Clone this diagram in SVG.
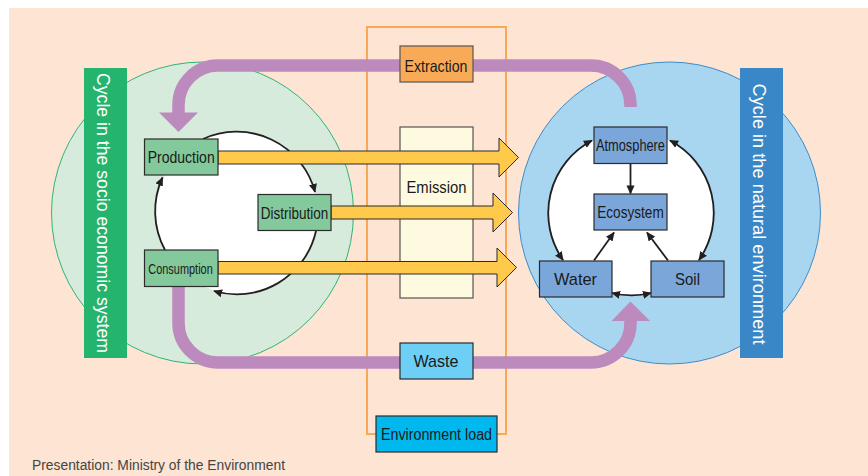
<svg xmlns="http://www.w3.org/2000/svg" width="868" height="476" viewBox="0 0 868 476">
<defs>
<style>
.node{stroke:#2b2b2b;stroke-width:1.2}
.gn{fill:#83C99C}
.bn{fill:#7BA6D9}
.t{font-family:"Liberation Sans",Arial,sans-serif;fill:#1a1a1a;text-anchor:middle}
.lbl{font-family:"Liberation Sans",Arial,sans-serif;fill:#ffffff;font-size:18px}
.cyc{fill:none;stroke:#231F20;stroke-width:1.8}
.pur{fill:none;stroke:#BD8ABE;stroke-width:12.5}
.purh{fill:#BD8ABE}
.yel{fill:#FFCA4B;stroke:#2b2b2b;stroke-width:1}
</style>
<marker id="ah" viewBox="0 0 10 10" refX="9" refY="5" markerWidth="5" markerHeight="5" orient="auto-start-reverse" markerUnits="strokeWidth">
<path d="M0,0.5 L10,5 L0,9.5 Z" fill="#231F20"/>
</marker>
</defs>
<rect x="0" y="0" width="868" height="476" fill="#ffffff"/>
<rect x="9" y="8" width="859" height="468" fill="#FDE4D3"/>

<g id="socio-circle">
<circle cx="202.5" cy="213" r="151" fill="#D6EBDC" stroke="#2DB577" stroke-width="1"/>
<circle cx="237" cy="212.5" r="81" fill="#ffffff"/>
</g>
<g id="natural-circle">
<circle cx="669.5" cy="213" r="151" fill="#A8D5F0" stroke="#3C8DCA" stroke-width="1"/>
<circle cx="631" cy="213" r="82" fill="#ffffff"/>
</g>

<g id="environment-frame">
<path d="M376,434 H367 V27 H506 V434 H497" fill="none" stroke="#F9A955" stroke-width="2"/>
</g>

<g id="emission">
<rect x="400" y="127" width="73" height="171" fill="#FEFADF" stroke="#555" stroke-width="1.2"/>
<text class="t" x="436.5" y="192.5" font-size="16.5" textLength="60" lengthAdjust="spacingAndGlyphs">Emission</text>
</g>

<g id="connectors">
<path class="cyc" d="M203,139 A81,81 0 0 1 315,192" marker-end="url(#ah)"/>
<path class="cyc" d="M316,231 A81,81 0 0 1 214,291" marker-end="url(#ah)"/>
<path class="cyc" d="M165,250 A81,81 0 0 1 162.5,177.5" marker-end="url(#ah)"/>
<path class="cyc" d="M563,260 A82,82 0 0 1 592,140.5" marker-start="url(#ah)" marker-end="url(#ah)"/>
<path class="cyc" d="M699,260 A82,82 0 0 0 670,140.5" marker-start="url(#ah)" marker-end="url(#ah)"/>
<path class="cyc" d="M651,293 A82,82 0 0 1 612,293" marker-start="url(#ah)" marker-end="url(#ah)"/>
<line class="cyc" x1="630.5" y1="163.5" x2="630.5" y2="193.5" marker-end="url(#ah)"/>
<line class="cyc" x1="594" y1="260.5" x2="614" y2="232.5" marker-end="url(#ah)"/>
<line class="cyc" x1="668" y1="260.5" x2="647" y2="232.5" marker-end="url(#ah)"/>

<path class="pur" d="M630.5,107 V105 A39.5,39.5 0 0 0 591,65.5 H473"/>
<path class="pur" d="M400,65.5 H218 A39.5,39.5 0 0 0 178.5,105 V113"/>
<polygon class="purh" points="159,112.5 198,112.5 178.5,132"/>
<path class="pur" d="M178.5,287 V323 A39.5,39.5 0 0 0 218,362.5 H400"/>
<path class="pur" d="M473,362.5 H591 A39.5,39.5 0 0 0 630.5,323 V320.5"/>
<polygon class="purh" points="611.5,321 650,321 630.5,301.5"/>

<polygon class="yel" points="218,151 499,151 499,138 518.5,157.5 499,177 499,164 218,164"/>
<polygon class="yel" points="331,206 493,206 493,193 512.5,212.5 493,232 493,219 331,219"/>
<polygon class="yel" points="218,261.5 497,261.5 497,248 516.5,267.5 497,287 497,274 218,274"/>
</g>

<g id="socio-label">
<rect x="84" y="68" width="43" height="290" fill="#25B46E"/>
<text class="lbl" transform="translate(97,73) rotate(90)" x="0" y="0" textLength="280" lengthAdjust="spacingAndGlyphs">Cycle in the socio economic system</text>
</g>
<g id="natural-label">
<rect x="740" y="68" width="43" height="290" fill="#3A87C8"/>
<text class="lbl" transform="translate(753,83.5) rotate(90)" x="0" y="0" textLength="261" lengthAdjust="spacingAndGlyphs">Cycle in the natural environment</text>
</g>

<g id="production">
<rect class="node gn" x="144.5" y="139" width="73.5" height="36"/>
<text class="t" x="181.2" y="163.3" font-size="17" textLength="67" lengthAdjust="spacingAndGlyphs">Production</text>
</g>
<g id="distribution">
<rect class="node gn" x="258" y="194.5" width="73" height="36"/>
<text class="t" x="294.5" y="219" font-size="17" textLength="67.5" lengthAdjust="spacingAndGlyphs">Distribution</text>
</g>
<g id="consumption">
<rect class="node gn" x="144.5" y="250" width="73.5" height="36.5"/>
<text class="t" x="180.5" y="274.3" font-size="14.5" textLength="64.5" lengthAdjust="spacingAndGlyphs">Consumption</text>
</g>

<g id="atmosphere">
<rect class="node bn" x="594" y="127" width="73" height="36.5"/>
<text class="t" x="630.5" y="151" font-size="17" textLength="69" lengthAdjust="spacingAndGlyphs">Atmosphere</text>
</g>
<g id="ecosystem">
<rect class="node bn" x="594" y="194" width="73" height="36"/>
<text class="t" x="630.5" y="217.5" font-size="17" textLength="66.5" lengthAdjust="spacingAndGlyphs">Ecosystem</text>
</g>
<g id="water">
<rect class="node bn" x="539.5" y="261" width="72.5" height="36"/>
<text class="t" x="575.5" y="284.5" font-size="17" textLength="43" lengthAdjust="spacingAndGlyphs">Water</text>
</g>
<g id="soil">
<rect class="node bn" x="651" y="261" width="73" height="36"/>
<text class="t" x="687.5" y="284.5" font-size="17" textLength="25" lengthAdjust="spacingAndGlyphs">Soil</text>
</g>

<g id="extraction">
<rect x="400" y="46" width="73" height="36" fill="#F9AA57" stroke="#555" stroke-width="1.2"/>
<text class="t" x="436" y="71.5" font-size="16.5" textLength="63" lengthAdjust="spacingAndGlyphs">Extraction</text>
</g>
<g id="waste">
<rect x="400" y="343" width="73" height="36" fill="#6DCFF6" stroke="#2b2b2b" stroke-width="1.2"/>
<text class="t" x="436" y="367" font-size="17" textLength="45" lengthAdjust="spacingAndGlyphs">Waste</text>
</g>
<g id="environment-load">
<rect x="376" y="416" width="121" height="36" fill="#00B8EE" stroke="#2b2b2b" stroke-width="1.2"/>
<text class="t" x="436.5" y="440" font-size="16" textLength="111" lengthAdjust="spacingAndGlyphs">Environment load</text>
</g>

<text x="32" y="469.5" font-family="Liberation Sans, Arial, sans-serif" font-size="14" fill="#444" textLength="253" lengthAdjust="spacingAndGlyphs">Presentation: Ministry of the Environment</text>
</svg>
